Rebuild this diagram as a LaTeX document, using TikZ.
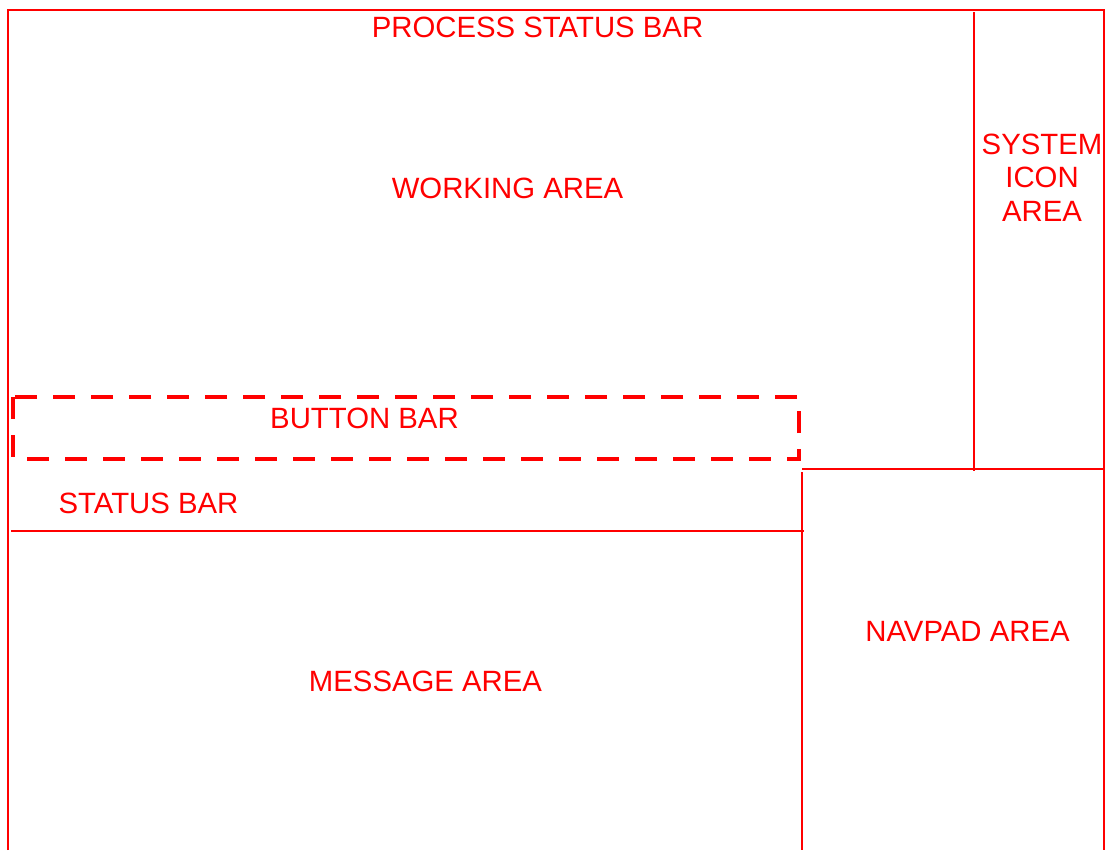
\documentclass[tikz,border=0pt]{standalone}
\usepackage{fontspec}
\setmainfont{Liberation Sans}
\usetikzlibrary{positioning}
\definecolor{rojo}{HTML}{FF0000}

\begin{document}
\begin{tikzpicture}[x=0.75pt, y=-0.75pt, font=\fontsize{22}{25.1}\selectfont,
      area/.style={draw=rojo, line width=1.5pt},
      barra/.style={draw=rojo, line width=2.4pt, dash pattern=on 16.5pt off 12pt},
      txt/.style={text=rojo, inner sep=0pt, anchor=base}]
    \useasboundingbox (0,0) rectangle (1105,850);
    \draw[area] (8,850) -- (8,10) -- (1104,10) -- (1104,850);
    \draw[area] (974,12) -- (974,471);
    \draw[area] (802,469) -- (1104,469);
    \draw[area] (802,472) -- (802,850);
    \draw[area] (11,530.5) -- (804,530.5);
    \draw[barra] (13,397) rectangle (799,459);
    \node[txt] (proc) at (537.5,37.3) {PROCESS STATUS BAR};
    \node[txt] (work) at (507.5,198.5) {WORKING AREA};
    \node[text=rojo, inner sep=0pt, align=center] (sys) at (1042,177.4) {SYSTEM\\ICON\\AREA};
    \node[txt] (btn) at (364.5,428.3) {BUTTON BAR};
    \node[txt] (stat) at (148.5,513.5) {STATUS BAR};
    \node[txt] (nav) at (967.5,641.5) {NAVPAD AREA};
    \node[txt] (msg) at (425.5,691.5) {MESSAGE AREA};
  \end{tikzpicture}
\end{document}
